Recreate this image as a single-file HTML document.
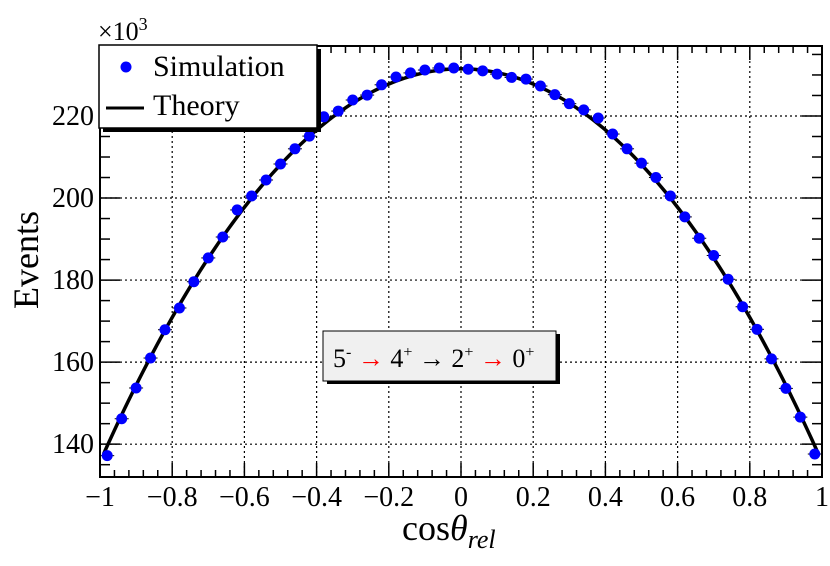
<!DOCTYPE html>
<html><head><meta charset="utf-8"><style>
body{margin:0;background:#fff}
svg, svg text{font-family:"Liberation Serif","DejaVu Serif",serif}
</style></head><body>
<svg id="chart" width="830" height="561" xmlns="http://www.w3.org/2000/svg" font-family="Liberation Serif, DejaVu Serif, serif">
<g id="grid"></g>
<g id="ticks"></g>
<g id="labels"></g>
<g id="series"></g>
<rect x="100" y="46" width="722" height="431" fill="none" stroke="#000" stroke-width="2"/>
<text x="98" y="40" font-size="26">×10<tspan dy="-10" font-size="18">3</tspan></text>
<text transform="translate(38,260) rotate(-90)" text-anchor="middle" font-size="36">Events</text>
<text x="402" y="540" font-size="36">cos<tspan font-style="italic">θ</tspan><tspan font-style="italic" font-size="26" dy="8">rel</tspan></text>
<g>
<rect x="103" y="49" width="218" height="83" fill="#000"/>
<rect x="99" y="45" width="218" height="83" fill="#fff" stroke="#000" stroke-width="1.5"/>
<circle cx="126" cy="67" r="5.5" fill="#0000ff"/>
<text x="153" y="76" font-size="30">Simulation</text>
<line x1="106" y1="108" x2="144" y2="108" stroke="#000" stroke-width="3"/>
<text x="153" y="115" font-size="30">Theory</text>
</g>
<g>
<rect x="327" y="334" width="233" height="50" fill="#000"/>
<rect x="323" y="331" width="233" height="50" fill="#f0f0f0" stroke="#000" stroke-width="1"/>
<text x="333" y="367" font-size="26">5<tspan dy="-10" font-size="16">-</tspan><tspan dy="10" fill="#ff0000"> →</tspan> 4<tspan dy="-10" font-size="16">+</tspan><tspan dy="10"> → 2</tspan><tspan dy="-10" font-size="16">+</tspan><tspan dy="10" fill="#ff0000"> →</tspan> 0<tspan dy="-10" font-size="16">+</tspan></text>
</g>
</svg>
<script>
const xTicks=[-1,-0.8,-0.6,-0.4,-0.2,0,0.2,0.4,0.6,0.8,1];
const xTickLabels=["\u22121","\u22120.8","\u22120.6","\u22120.4","\u22120.2","0","0.2","0.4","0.6","0.8","1"];
const yTicks=[140,160,180,200,220];
const yTickLabels=["140","160","180","200","220"];
const binCenters=[-0.98,-0.94,-0.90,-0.86,-0.82,-0.78,-0.74,-0.70,-0.66,-0.62,-0.58,-0.54,-0.50,-0.46,-0.42,-0.38,-0.34,-0.30,-0.26,-0.22,-0.18,-0.14,-0.10,-0.06,-0.02,0.02,0.06,0.10,0.14,0.18,0.22,0.26,0.30,0.34,0.38,0.42,0.46,0.50,0.54,0.58,0.62,0.66,0.70,0.74,0.78,0.82,0.86,0.90,0.94,0.98];
const simValues=[137.2,146.2,153.7,161.0,167.9,173.2,179.6,185.4,190.5,197.1,200.5,204.4,208.3,212.0,215.1,219.8,221.2,223.9,225.1,227.6,229.5,230.5,231.2,231.7,231.7,231.4,231.0,230.2,229.4,229.0,227.3,225.2,223.0,221.5,219.5,215.6,212.0,208.5,205.0,200.5,195.4,190.2,186.0,180.2,173.5,168.0,160.8,153.6,146.6,137.6];
const theoryNorm=[231.5];
const theoryCoeffs=[-0.400,-0.014];
const X0=100,X1=822,Y0=477,Y1=46,XMIN=-1,XMAX=1,YMIN=132.0,YMAX=237.06;
const sx=v=>X0+(v-XMIN)/(XMAX-XMIN)*(X1-X0);
const sy=v=>Y0-(v-YMIN)/(YMAX-YMIN)*(Y0-Y1);
const NS="http://www.w3.org/2000/svg";
function mk(tag,attrs,parent){const e=document.createElementNS(NS,tag);for(const k in attrs)e.setAttribute(k,attrs[k]);document.getElementById(parent).appendChild(e);return e;}
xTicks.forEach(t=>{if(t>XMIN&&t<XMAX){const l=mk('line',{x1:sx(t),x2:sx(t),y1:Y1,y2:Y0,stroke:'#000','stroke-width':1.2,'stroke-dasharray':'2,3'},'grid');

}});
yTicks.forEach(t=>{const l=mk('line',{x1:X0,x2:X1,y1:sy(t),y2:sy(t),stroke:'#000','stroke-width':1.2,'stroke-dasharray':'2,3'},'grid');

});
for(let i=0;i<=50;i++){const v=-1+i*0.04;const maj=(i%5===0);const len=maj?14:7;
[[Y0,Y0-len],[Y1,Y1+len]].forEach(p=>{const l=mk('line',{x1:sx(v),x2:sx(v),y1:p[0],y2:p[1],stroke:'#000','stroke-width':1.5},'ticks');

});}
for(let v=135;v<=235;v+=5){const maj=(v%20===0);const len=maj?20:10;
[[X0,X0+len],[X1,X1-len]].forEach(p=>{const l=mk('line',{x1:p[0],x2:p[1],y1:sy(v),y2:sy(v),stroke:'#000','stroke-width':1.5},'ticks');

});}
xTicks.forEach((t,i)=>{const e=mk('text',{x:sx(t),y:506,'text-anchor':'middle','font-size':28,'font-family':'Liberation Serif, DejaVu Serif, serif'},'labels');e.textContent=xTickLabels[i];

});
yTicks.forEach((t,i)=>{const e=mk('text',{x:94,y:sy(t)+9,'text-anchor':'end','font-size':28,'font-family':'Liberation Serif, DejaVu Serif, serif'},'labels');e.textContent=yTickLabels[i];

});
let d='';for(let i=0;i<=200;i++){const c=-0.99+i*(1.98/200);const w=theoryNorm[0]*(1+theoryCoeffs[0]*c*c+theoryCoeffs[1]*c**4);d+=(i?'L':'M')+sx(c).toFixed(2)+','+sy(w).toFixed(2);}
const path=mk('path',{d:d,fill:'none',stroke:'#000','stroke-width':3.5},'series');


binCenters.forEach((c,i)=>{const h=mk('line',{x1:sx(c)-7,x2:sx(c)+7,y1:sy(simValues[i]),y2:sy(simValues[i]),stroke:'#000','stroke-width':1},'series');


const p=mk('circle',{cx:sx(c),cy:sy(simValues[i]),r:5.5,fill:'#0000ff'},'series');

});
</script>
</body></html>
